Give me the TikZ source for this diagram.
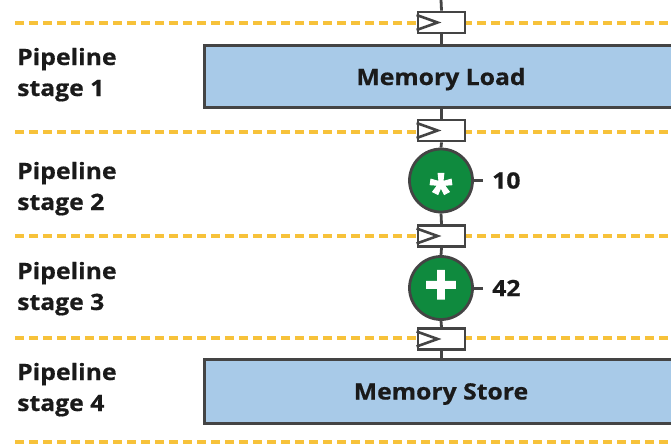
\documentclass[tikz,border=0pt]{standalone}
\usepackage{fontspec}
\setmainfont{Open Sans}
\definecolor{guide}{HTML}{F7C23A}
\definecolor{edge}{HTML}{444444}
\definecolor{memfill}{HTML}{A8CAE8}
\definecolor{opgreen}{HTML}{0F8A3E}
\definecolor{ink}{HTML}{1A1A1A}
\newcommand{\labelfont}{\fontsize{22.5}{31}\selectfont\bfseries\addfontfeature{FakeStretch=1.1,FakeBold=0.6}}
\tikzset{
  guideline/.style={draw=guide, line width=3.3pt, dash pattern=on 9pt off 5pt},
  wire/.style={draw=edge, line width=2.8pt},
  regbox/.style={rectangle, draw=edge, line width=2.8pt, fill=white,
    minimum width=47pt, minimum height=21pt, inner sep=0pt},
  membox/.style={rectangle, draw=edge, line width=3pt, fill=memfill,
    minimum width=474pt, minimum height=62pt, inner sep=0pt,
    text height=17pt, text depth=0pt,
    font=\labelfont, text=ink},
  opnode/.style={circle, draw=edge, line width=2.8pt, fill=opgreen,
    minimum size=63pt, inner sep=0pt},
  opsym/.style={text=white, inner sep=0pt,
    font=\fontsize{45}{45}\selectfont\bfseries\addfontfeature{FakeBold=2.2}},
  stagelabel/.style={anchor=base west, align=left, inner sep=0pt, text=ink,
    font=\labelfont},
  constlabel/.style={anchor=west, inner sep=0pt, text=ink, font=\labelfont}
}
\newcommand{\clockmark}[1]{%
  \draw[edge, line width=2.6pt, line join=miter]
    ([yshift=7.5pt]#1.west) -- ++(21pt,-7.5pt) -- ++(-21pt,-7.5pt);}
\begin{document}
\begin{tikzpicture}[x=1pt,y=-1pt]
\useasboundingbox (0,0) rectangle (671,444);

% stage boundaries
\foreach \yy in {23,132,236,338,442}
  \draw[guideline] (15,\yy) -- (671,\yy);

% pipeline elements
\coordinate (feed) at (441,0);
\node[regbox] (r1) at (441.5,22.5) {};
\node[membox] (load) at (441,76.5) {Memory Load};
\node[regbox] (r2) at (441.5,130.5) {};
\node[opnode] (mul) at (441,180.5) {};
\node[regbox] (r3) at (441.5,236) {};
\node[opnode] (add) at (441,288) {};
\node[regbox] (r4) at (441.5,339) {};
\node[membox, minimum height=64pt] (store) at (441,391) {Memory Store};

% connections along the datapath
\draw[wire] (feed) -- (r1.north);
\draw[wire] (r1.south) -- (r1.south |- load.north);
\draw[wire] (r2.north) -- (r2.north |- load.south);
\draw[wire] (r2.south) -- (mul.north);
\draw[wire] (mul.south) -- (r3.north);
\draw[wire] (r3.south) -- (add.north);
\draw[wire] (add.south) -- (r4.north);
\draw[wire] (r4.south) -- (r4.south |- store.north);

% register clock marks
\clockmark{r1}
\clockmark{r2}
\clockmark{r3}
\clockmark{r4}

% operator symbols
\node[opsym, yshift=-10pt] (mulsym) at (mul) {*};
\node[opsym, font=\fontsize{58}{58}\selectfont\bfseries\addfontfeature{FakeBold=2.8}] (addsym) at (add) {+};

% constant operands
\coordinate (c10) at (483,180.5);
\coordinate (c42) at (483,288);
\draw[wire, line width=3pt] (mul.east) -- (c10);
\draw[wire, line width=3pt] (add.east) -- (c42);
\node[constlabel] (k10) at (492,180.5) {10};
\node[constlabel] (k42) at (492,288) {42};

% stage names
\node[stagelabel] (s1) at (17,96) {Pipeline\\stage 1};
\node[stagelabel] (s2) at (17,210) {Pipeline\\stage 2};
\node[stagelabel] (s3) at (17,310) {Pipeline\\stage 3};
\node[stagelabel] (s4) at (17,411) {Pipeline\\stage 4};
\end{tikzpicture}
\end{document}
